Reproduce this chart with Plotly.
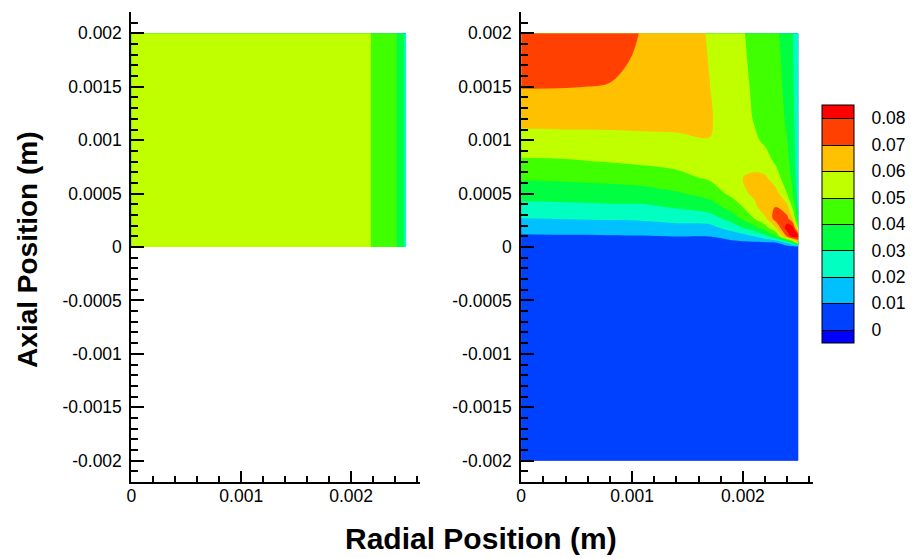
import plotly.graph_objects as go

# ---------------- data ----------------
# contour levels / colour bands (Tecplot-like rainbow)
LEVEL_START, LEVEL_END, LEVEL_STEP = 0.0, 0.08, 0.01
BAND_COLORS = ["#0000ff", "#0040ff", "#00c0ff", "#00ffc0", "#00ff40",
               "#40ff00", "#c0ff00", "#ffc000", "#ff4000", "#ff0000"]
CB_TICKS = [0, 0.01, 0.02, 0.03, 0.04, 0.05, 0.06, 0.07, 0.08]
CB_LABELS = ["0", "0.01", "0.02", "0.03", "0.04", "0.05", "0.06", "0.07", "0.08"]

# left panel: radial position (m), axial position (m), field values (rows = axial)
R1 = [0, 0.0021, 0.0022, 0.0024, 0.00245, 0.0025]
Z1 = [0, 0.002]
V1 = [
    [0.056, 0.0555, 0.0485, 0.0415, 0.036, 0.026],
    [0.056, 0.0555, 0.0485, 0.0415, 0.036, 0.026],
]

# right panel
R2 = [0, 0.0004, 0.0008, 0.0011, 0.0014, 0.0017, 0.0019, 0.0021, 0.0022,
      0.0023, 0.0024, 0.00245, 0.0025]
Z2 = [-0.002, 0, 0.00004, 0.0001, 0.00018, 0.00027, 0.00037, 0.0005,
      0.00065, 0.0008, 0.001, 0.0012, 0.0015, 0.00175, 0.002]
V2 = [
    # z = -0.002
    [0.005, 0.005, 0.005, 0.005, 0.005, 0.005, 0.005, 0.005, 0.005, 0.005, 0.005, 0.005, 0.005],
    # z = 0
    [0.005, 0.005, 0.005, 0.005, 0.005, 0.005, 0.005, 0.005, 0.005, 0.005, 0.005, 0.005, 0.005],
    # z = 0.00004
    [0.0065, 0.0066, 0.0067, 0.0069, 0.007, 0.007, 0.0075, 0.0082, 0.0085, 0.009, 0.022, 0.035, 0.06],
    # z = 0.0001
    [0.0088, 0.0091, 0.0093, 0.0095, 0.0101, 0.0101, 0.0138, 0.0201, 0.027, 0.0401, 0.072, 0.087, 0.083],
    # z = 0.00018
    [0.0138, 0.0142, 0.0147, 0.0154, 0.0167, 0.0167, 0.0244, 0.036, 0.046, 0.0603, 0.086, 0.083, 0.048],
    # z = 0.00027
    [0.0201, 0.0207, 0.0213, 0.0219, 0.0236, 0.0256, 0.0344, 0.0502, 0.058, 0.076, 0.0725, 0.0595, 0.033],
    # z = 0.00037
    [0.0267, 0.0273, 0.028, 0.0281, 0.0306, 0.0346, 0.0438, 0.056, 0.0675, 0.0705, 0.063, 0.0485, 0.027],
    # z = 0.0005
    [0.034, 0.0345, 0.0353, 0.0359, 0.0388, 0.044, 0.0525, 0.0625, 0.0665, 0.0635, 0.0495, 0.0401, 0.025],
    # z = 0.00065
    [0.0414, 0.0419, 0.043, 0.0447, 0.0472, 0.0515, 0.0585, 0.0615, 0.0615, 0.0535, 0.0445, 0.0375, 0.0235],
    # z = 0.0008
    [0.0486, 0.049, 0.0504, 0.0516, 0.0529, 0.0555, 0.0585, 0.057, 0.0535, 0.0485, 0.042, 0.0355, 0.0225],
    # z = 0.001
    [0.0565, 0.057, 0.0575, 0.0578, 0.0586, 0.0599, 0.0575, 0.0515, 0.0485, 0.046, 0.0401, 0.034, 0.022],
    # z = 0.0012
    [0.0628, 0.063, 0.0627, 0.063, 0.0625, 0.0606, 0.0565, 0.0495, 0.0465, 0.0447, 0.0385, 0.0328, 0.0215],
    # z = 0.0015
    [0.0705, 0.0703, 0.0696, 0.0665, 0.0645, 0.0601, 0.0552, 0.0487, 0.0453, 0.0435, 0.0372, 0.0317, 0.021],
    # z = 0.00175
    [0.0735, 0.0732, 0.0722, 0.0685, 0.065, 0.0597, 0.054, 0.0482, 0.0447, 0.0428, 0.0362, 0.0308, 0.0205],
    # z = 0.002
    [0.0755, 0.075, 0.0735, 0.0695, 0.065, 0.0593, 0.0532, 0.0478, 0.0443, 0.0415, 0.0352, 0.0301, 0.0205],
]

X_TICKS = [0, 0.001, 0.002]
X_LABELS = ["0", "0.001", "0.002"]
Y_TICKS = [-0.002, -0.0015, -0.001, -0.0005, 0, 0.0005, 0.001, 0.0015, 0.002]
Y_LABELS = ["-0.002", "-0.0015", "-0.001", "-0.0005", "0", "0.0005", "0.001", "0.0015", "0.002"]

# ---------------- styling ----------------
OFF = 8                      # page body margin in the browser
W, H = 917 - OFF, 558 - OFF  # figure size so the page is exactly filled


def px(x):
    return (x - OFF) / W


def py(y):
    return 1 - (y - OFF) / H


FONT = "Liberation Sans, Arial, Helvetica, sans-serif"
TICKFONT = dict(family=FONT, size=17.5, color="black")

ZMIN = LEVEL_START - LEVEL_STEP / 2
ZMAX = LEVEL_END + LEVEL_STEP / 2
bounds = [0.0]
for i in range(len(BAND_COLORS) - 1):
    bounds.append((LEVEL_START + i * LEVEL_STEP - ZMIN) / (ZMAX - ZMIN))
bounds.append(1.0)
colorscale = []
for i, c in enumerate(BAND_COLORS):
    colorscale.append([bounds[i], c])
    colorscale.append([bounds[i + 1], c])

contours = dict(start=LEVEL_START, end=LEVEL_END, size=LEVEL_STEP,
                coloring="fill", showlines=False)

fig = go.Figure()
fig.add_trace(go.Contour(x=R1, y=Z1, z=V1, xaxis="x", yaxis="y",
                         colorscale=colorscale, zmin=ZMIN, zmax=ZMAX,
                         contours=contours, line=dict(width=0),
                         showscale=False, hoverinfo="skip"))
fig.add_trace(go.Contour(x=R2, y=Z2, z=V2, xaxis="x2", yaxis="y2",
                         colorscale=colorscale, zmin=ZMIN, zmax=ZMAX,
                         contours=contours, line=dict(width=0),
                         showscale=False, hoverinfo="skip"))
# invisible copy that only carries the colour bar (with black level lines)
fig.add_trace(go.Contour(x=R2, y=Z2, z=V2, xaxis="x2", yaxis="y2",
                         colorscale=colorscale, zmin=ZMIN, zmax=ZMAX,
                         contours=dict(start=LEVEL_START, end=LEVEL_END, size=LEVEL_STEP,
                                       coloring="fill", showlines=True),
                         line=dict(width=1, color="black"), opacity=0,
                         hoverinfo="skip", showscale=True,
                         colorbar=dict(x=px(821), xanchor="left", xpad=0, ypad=0,
                                       y=py(224), yanchor="middle",
                                       len=238, lenmode="pixels",
                                       thickness=32, thicknessmode="pixels",
                                       outlinewidth=1, outlinecolor="black",
                                       tickmode="array", tickvals=CB_TICKS, ticktext=CB_LABELS,
                                       ticks="outside", ticklen=14,
                                       tickcolor="rgba(0,0,0,0)",
                                       tickfont=TICKFONT)))


def xaxis(dom, rng, anchor):
    return dict(domain=dom, range=rng, anchor=anchor, showgrid=False, zeroline=False,
                showline=True, linecolor="black", linewidth=2,
                tickmode="array", tickvals=X_TICKS, ticktext=X_LABELS,
                ticks="inside", ticklen=11, tickwidth=2, tickcolor="black",
                tickfont=TICKFONT, ticklabelstandoff=-3,
                minor=dict(tickmode="linear", tick0=0, dtick=0.0002, ticks="inside",
                           ticklen=6, tickwidth=1.5, tickcolor="black", showgrid=False))


def yaxis(anchor):
    return dict(domain=[py(482), py(12)], range=[-0.0022, 0.0022], anchor=anchor,
                showgrid=False, zeroline=False,
                showline=True, linecolor="black", linewidth=2,
                tickmode="array", tickvals=Y_TICKS, ticktext=Y_LABELS,
                ticks="inside", ticklen=13, tickwidth=2, tickcolor="black",
                tickfont=TICKFONT, ticklabelstandoff=4,
                minor=dict(tickmode="linear", tick0=0, dtick=0.0001, ticks="inside",
                           ticklen=7, tickwidth=1.5, tickcolor="black", showgrid=False))


fig.update_layout(
    width=W, height=H, autosize=False,
    margin=dict(l=0, r=0, t=0, b=0),
    paper_bgcolor="white", plot_bgcolor="white",
    showlegend=False,
    xaxis=xaxis([px(127), px(417)], [0, 0.002624], "y"),
    yaxis=yaxis("x"),
    xaxis2=xaxis([px(519), px(812)], [0, 0.002628], "y2"),
    yaxis2=yaxis("x2"),
    annotations=[
        dict(text="<b>Radial Position (m)</b>", x=px(479), y=py(538),
             xref="paper", yref="paper", xanchor="center", yanchor="middle",
             showarrow=False, font=dict(family=FONT, size=30, color="black")),
        dict(text="<b>Axial Position (m)</b>", x=px(23), y=py(250),
             xref="paper", yref="paper", xanchor="center", yanchor="middle",
             textangle=-90, showarrow=False,
             font=dict(family=FONT, size=28, color="black")),
    ],
)

fig.write_html("out.html")
